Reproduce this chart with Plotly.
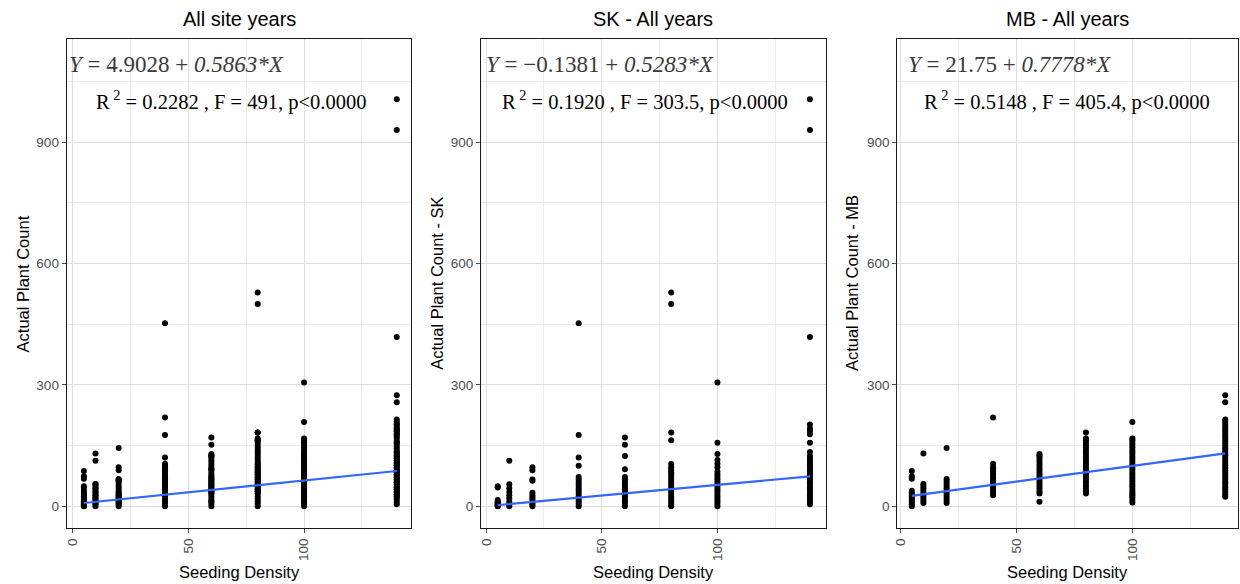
import plotly.graph_objects as go

# ---------------- data ----------------
densities = [5, 10, 20, 40, 60, 80, 100, 140]

sk_counts = [
    [0, 1, 3, 5, 7, 9, 11, 15, 46, 49],
    [0, 5, 11, 19, 27, 35, 44, 54, 112],
    [0, 4, 8, 13, 18, 22, 27, 33, 63, 66, 89, 96],
    [0, 6, 12, 18, 24, 30, 36, 42, 48, 54, 60, 66, 72, 100, 120, 176, 452],
    [0, 6, 12, 18, 24, 30, 36, 42, 48, 54, 60, 66, 72, 91, 124, 152, 170],
    [0, 6, 12, 18, 24, 30, 36, 42, 48, 54, 60, 66, 72, 78, 84, 90, 96, 104, 163, 182, 500, 528],
    [0, 6, 12, 18, 24, 30, 36, 42, 48, 54, 60, 66, 72, 78, 85, 96, 105, 114, 129, 157, 306],
    [5, 11, 17, 23, 29, 35, 41, 47, 53, 59, 65, 71, 77, 83, 89, 95, 101, 107, 113, 119, 124,
     134, 157, 178, 186, 192, 202, 418, 930, 1006],
]

mb_counts = [
    [0, 4, 8, 12, 16, 20, 24, 28, 33, 38, 68, 74, 87],
    [8, 14, 20, 26, 32, 38, 44, 50, 55, 130],
    [8, 14, 20, 26, 32, 38, 44, 50, 56, 62, 67, 144],
    [27, 33, 39, 45, 51, 57, 63, 69, 75, 81, 86, 91, 96, 105, 219],
    [11, 31, 37, 43, 49, 55, 61, 67, 73, 79, 85, 91, 97, 103, 109, 115, 121, 126, 129],
    [31, 37, 43, 49, 55, 61, 67, 73, 79, 85, 91, 97, 103, 109, 115, 121, 127, 133, 139,
     145, 151, 157, 163, 167, 182],
    [9, 15, 22, 27, 31, 37, 43, 49, 55, 61, 67, 73, 79, 85, 91, 97, 103, 109, 115, 121,
     127, 133, 139, 145, 151, 157, 163, 167, 208],
    [23, 29, 35, 41, 47, 53, 59, 65, 71, 77, 83, 89, 95, 101, 107, 113, 119, 125, 131, 137,
     143, 149, 155, 161, 167, 173, 179, 185, 191, 197, 203, 209, 214, 257, 274],
]

panel_titles = ["All site years", "SK - All years", "MB - All years"]
y_titles = ["Actual Plant Count", "Actual Plant Count - SK", "Actual Plant Count - MB"]
x_title = "Seeding Density"
intercepts = [4.9028, -0.1381, 21.75]
slopes = [0.5863, 0.5283, 0.7778]
r2_text = ["0.2282", "0.1920", "0.5148"]
f_text = ["491", "303.5", "405.4"]
int_text = ["4.9028", "\u22120.1381", "21.75"]
slope_text = ["0.5863", "0.5283", "0.7778"]
x_ticks = [0, 50, 100]
x_minor = [25, 75, 125]
y_ticks = [0, 300, 600, 900]
y_minor = [150, 450, 750, 1050]

# ---------------- helpers ----------------
def flatten(counts):
    xs, ys = [], []
    for d, vals in zip(densities, counts):
        xs += [d] * len(vals)
        ys += vals
    return xs, ys

sk_x, sk_y = flatten(sk_counts)
mb_x, mb_y = flatten(mb_counts)
all_x, all_y = sk_x + mb_x, sk_y + mb_y
panels = [(all_x, all_y), (sk_x, sk_y), (mb_x, mb_y)]

W, H = 1240, 584
px_domains = [(62, 408), (478, 824), (896, 1238)]
top_px, bot_px = 39, 528
x_ranges = [[-2.4, 146.3], [-2.2, 146.8], [-1.2, 145.5]]
y_range = [-54, 1155]

fig = go.Figure()
ann = []
for i, (xs, ys) in enumerate(panels):
    n = "" if i == 0 else str(i + 1)
    xa, ya = "x" + n, "y" + n
    fig.add_trace(go.Scatter(x=xs, y=ys, mode="markers", xaxis=xa, yaxis=ya,
                             marker=dict(color="black", size=6), showlegend=False,
                             hoverinfo="skip"))
    lx = [min(densities), max(densities)]
    ly = [intercepts[i] + slopes[i] * v for v in lx]
    fig.add_trace(go.Scatter(x=lx, y=ly, mode="lines", xaxis=xa, yaxis=ya,
                             line=dict(color="#3366FF", width=2.2), showlegend=False,
                             hoverinfo="skip"))
    l, r = px_domains[i]
    dom = [l / W, r / W]
    axcommon = dict(showline=True, mirror=True, linecolor="#1a1a1a", linewidth=1.3,
                    showgrid=True, gridcolor="#dedede", gridwidth=1.1,
                    ticks="outside", ticklen=4, tickcolor="#4d4d4d", tickwidth=1,
                    tickfont=dict(family="Liberation Sans", size=13.5, color="#4d4d4d"),
                    zeroline=False)
    fig.update_layout(**{
        ("xaxis" + n): dict(domain=dom, range=x_ranges[i], tickvals=x_ticks,
                            tickangle=-90, anchor=ya,
                            minor=dict(tickvals=x_minor, showgrid=True, gridcolor="#ebebeb",
                                       gridwidth=0.8, ticks=""),
                            **axcommon),
        ("yaxis" + n): dict(domain=[(H - bot_px) / H, (H - top_px) / H], range=y_range,
                            tickvals=y_ticks, anchor=xa,
                            minor=dict(tickvals=y_minor, showgrid=True, gridcolor="#ebebeb",
                                       gridwidth=0.8, ticks=""),
                            **axcommon),
    })
    cx = (l + r) / 2 / W
    ann.append(dict(text=panel_titles[i], x=cx, y=(H - 19) / H, xref="paper", yref="paper",
                    showarrow=False, font=dict(family="Liberation Sans", size=20, color="black"),
                    xanchor="center", yanchor="middle"))
    ann.append(dict(text=x_title, x=cx, y=(H - 572) / H, xref="paper", yref="paper",
                    showarrow=False, font=dict(family="Liberation Sans", size=16.5, color="black"),
                    xanchor="center", yanchor="middle"))
    ytx = [18, 433, 850][i]
    ann.append(dict(text=y_titles[i], x=ytx / W, y=(H - (top_px + bot_px) / 2) / H,
                    xref="paper", yref="paper", textangle=-90, showarrow=False,
                    font=dict(family="Liberation Sans", size=16.5, color="black"),
                    xanchor="center", yanchor="middle"))
    eq_x = [0.0, 0.009, 0.026][i]
    ann.append(dict(text="<i>Y</i> = " + int_text[i] + " + <i>" + slope_text[i] + "*X</i>",
                    x=eq_x, y=1 - 26 / (bot_px - top_px), xref=xa + " domain", yref=ya + " domain",
                    showarrow=False, xanchor="left", yanchor="middle",
                    font=dict(family="Liberation Serif", size=23, color="#3a3a3a")))
    r_x = [0.078, 0.055, 0.073][i]
    ann.append(dict(text="R<sup> 2</sup> = " + r2_text[i] + " , F = " + f_text[i] + ", p&lt;0.0000",
                    x=r_x, y=1 - 62 / (bot_px - top_px), xref=xa + " domain", yref=ya + " domain",
                    showarrow=False, xanchor="left", yanchor="middle",
                    font=dict(family="Liberation Serif", size=20.5, color="black")))

fig.update_layout(width=W, height=H, margin=dict(l=0, r=0, t=0, b=0),
                  paper_bgcolor="white", plot_bgcolor="white", annotations=ann)
fig.write_html("out.html", config={"displayModeBar": False})

# remove default page margin so the figure sits at the window's top-left corner
with open("out.html", "r", encoding="utf-8") as fh:
    html = fh.read()
html = html.replace("<head>", "<head><style>html,body{margin:0;padding:0;overflow:hidden;}</style>", 1)
with open("out.html", "w", encoding="utf-8") as fh:
    fh.write(html)
